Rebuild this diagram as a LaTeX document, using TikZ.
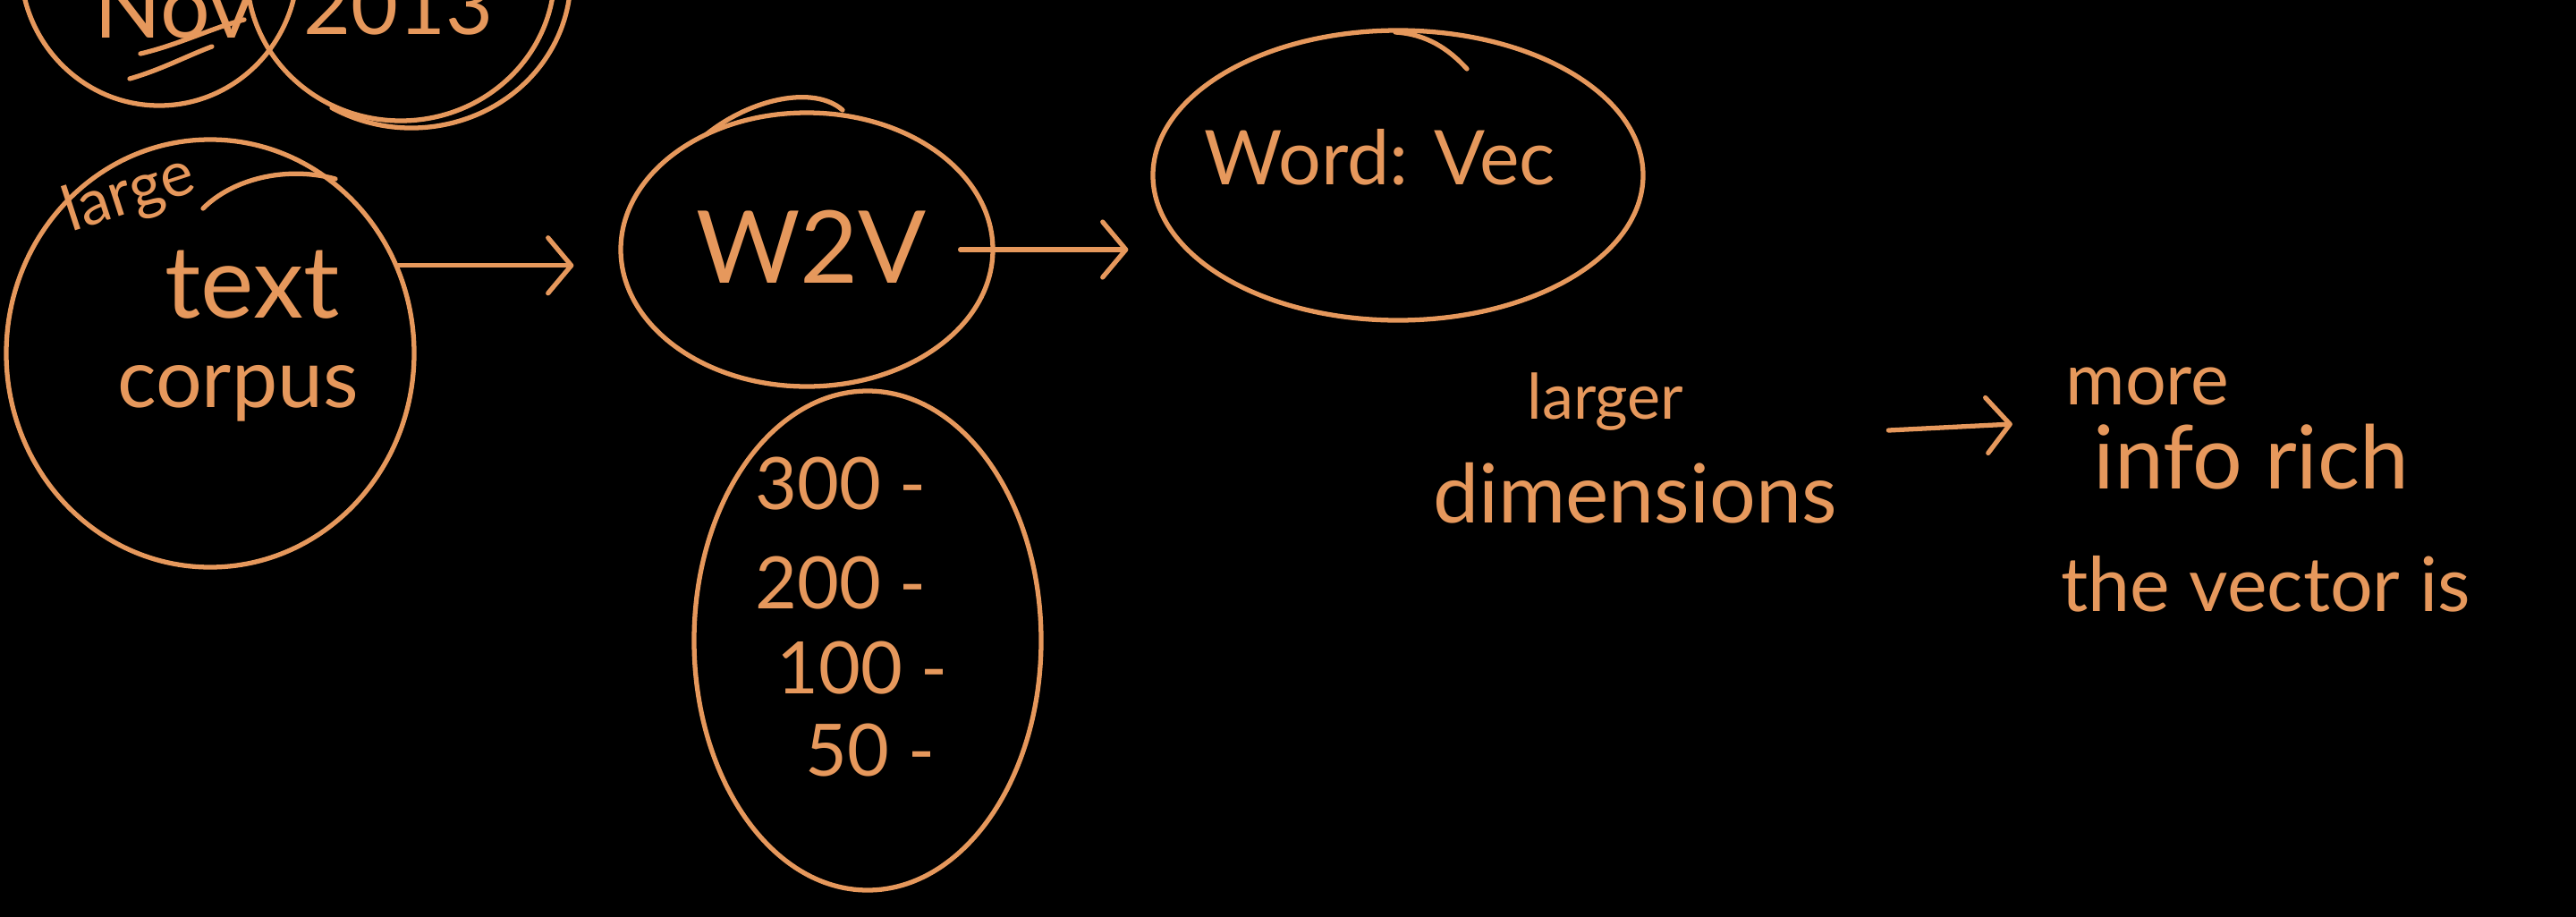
\documentclass[tikz,border=0pt]{standalone}
\usepackage{fontspec}
\setmainfont{Lato}
\usetikzlibrary{arrows.meta, positioning, shapes.geometric}
\definecolor{ink}{RGB}{230,152,92}

\begin{document}
\begin{tikzpicture}[
  bubble/.style={ellipse, draw=ink, line width=1.5pt, inner sep=0pt},
  note/.style={text=ink, inner sep=0pt, anchor=base, font=\fontsize{#1pt}{#1pt}\selectfont},
  stroke/.style={draw=ink, line width=1.5pt, line cap=round},
  flow/.style={stroke, -{Straight Barb[length=0.26cm, width=0.62cm, round]}},
]
  % Board
  \useasboundingbox (0,0) rectangle (28.8,-10.24);
  \fill[black] (-0.2,0.2) rectangle (29.0,-10.44);
  \clip (0,0) rectangle (28.8,-10.24);

  % Cut-off bubbles at the top
  \node[bubble, minimum width=3.1cm, minimum height=3.16cm] (month) at (1.78,0.40) {};
  \node[bubble, minimum width=3.44cm, minimum height=3.3cm] (year) at (4.48,0.30) {};
  \draw[stroke] (3.71,-1.205) arc[start angle=-120, end angle=10, x radius=1.78, y radius=1.68];
  \node[note=28] (monthtxt) at (1.95,-0.42) {Nov};
  \node[note=26] (yeartxt) at (4.45,-0.38) {2013};
  \draw[stroke] (1.57,-0.60) .. controls (2.0,-0.50) and (2.4,-0.30) .. (2.73,-0.22);
  \draw[stroke] (1.45,-0.88) .. controls (1.8,-0.78) and (2.1,-0.62) .. (2.37,-0.52);

  % Corpus
  \node[bubble, minimum width=4.56cm, minimum height=4.78cm] (corpus) at (2.35,-3.95) {};
  \draw[stroke] (2.27,-2.33) .. controls (2.6,-2.0) and (3.2,-1.85) .. (3.75,-2.0);
  \node[note=20, anchor=center, rotate=18] (large) at (1.45,-2.18) {large};
  \node[note=32] (text) at (2.82,-3.55) {text};
  \node[note=26] (corpustxt) at (2.66,-4.55) {corpus};

  % Model
  \node[bubble, minimum width=4.16cm, minimum height=3.06cm] (w2v) at (9.02,-2.79) {};
  \draw[stroke] (7.9,-1.50) .. controls (8.4,-1.1) and (9.1,-0.95) .. (9.42,-1.23);
  \node[note=32] (w2vtxt) at (9.07,-3.16) {W2V};

  % Output
  \node[bubble, minimum width=5.48cm, minimum height=3.24cm] (wordvec) at (15.63,-1.96) {};
  \draw[stroke] (15.6,-0.36) .. controls (15.95,-0.38) and (16.2,-0.55) .. (16.40,-0.77);
  \node[note=24] (wordvectxt) at (15.43,-2.06) {Word: Vec};

  % Dimension sizes
  \node[bubble, minimum width=3.88cm, minimum height=5.58cm] (dimsize) at (9.70,-7.16) {};
  \node[note=23] (d300) at (9.40,-5.69) {300 -};
  \node[note=23] (d200) at (9.40,-6.80) {200 -};
  \node[note=23] (d100) at (9.64,-7.75) {100 -};
  \node[note=23] (d50) at (9.73,-8.67) {50 -};

  % Remark
  \node[note=20] (larger) at (17.95,-4.68) {larger};
  \node[note=26] (dims) at (18.28,-5.84) {dimensions};
  \node[note=23] (more) at (24.01,-4.52) {more};
  \node[note=28] (info) at (25.17,-5.46) {info rich};
  \node[note=24] (vector) at (25.33,-6.83) {the vector is};

  % Arrows
  \draw[flow, shorten >=0.5cm] (corpus.25) -- (corpus.25 -| w2v.west);
  \draw[flow, shorten >=0.25cm] ([xshift=-0.39cm]w2v.east) -- (w2v.east -| wordvec.west);
  \draw[flow] ([shift={(0.57,1.03)}]dims.base east) -- ([shift={(-0.9,0.72)}]info.base west);
\end{tikzpicture}
\end{document}
